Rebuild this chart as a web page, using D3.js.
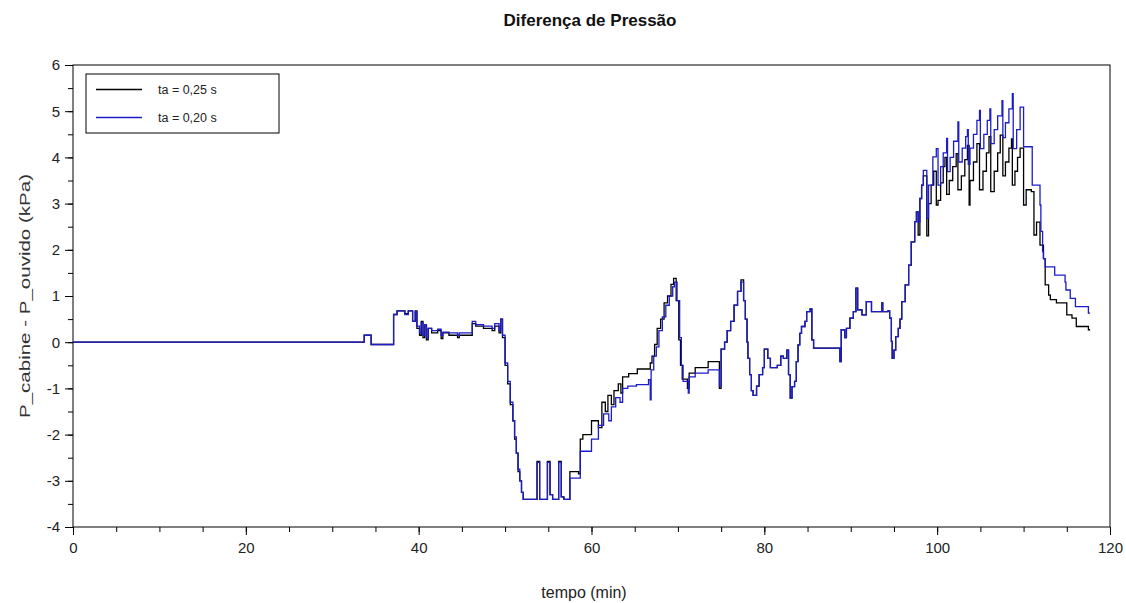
<!DOCTYPE html>
<html>
<head>
<meta charset="utf-8">
<script src="https://cdn.jsdelivr.net/npm/d3@7"></script>
<style>
  html, body { margin: 0; padding: 0; background: #fff; }
  svg { display: block; font-family: "Liberation Sans", Arial, Helvetica, sans-serif; }
</style>
</head>
<body>
<svg id="chart" width="1126" height="603"></svg>
<script>
// Pressure difference between cabin and ear, two time constants (stepwise signal)
const seriesNames = ["ta = 0,25 s", "ta = 0,20 s"];
const seriesColors = ["#000000", "#1c1cc8"];

const xTicks = [0, 20, 40, 60, 80, 100, 120];
const yTicks = [-4, -3, -2, -1, 0, 1, 2, 3, 4, 5, 6];

// ta = 0,25 s : time (min) and value (kPa) at each step change
const timeA = [
  0, 33.7, 34.5, 37.1, 37.5, 38.4, 38.8, 39.3, 39.6, 39.8, 40.1, 40.3, 40.5, 40.7, 40.9, 41.1, 41.5, 42.2, 42.6, 42.8,
  43.5, 44.5, 44.7, 46.2, 46.6, 47.5, 48.5, 48.8, 49.3, 49.5, 49.7, 50.0, 50.3, 50.6, 50.9, 51.1, 51.3, 51.5, 51.7, 51.9,
  52.1, 53.7, 54.0, 54.9, 55.2, 55.5, 56.2, 56.5, 56.8, 57.5, 58.5, 58.7, 59.0, 60.0, 60.8, 61.2, 61.6, 61.9, 62.3, 62.6,
  63.1, 63.4, 63.6, 64.3, 65.3, 66.8, 67.0, 67.3, 67.6, 68.0, 68.4, 68.8, 69.2, 69.5, 69.8, 70.1, 70.3, 70.5, 71.1, 71.3,
  72.0, 73.5, 74.8, 75.0, 75.4, 75.7, 76.1, 76.5, 76.9, 77.3, 77.6, 77.8, 78.0, 78.1, 78.3, 78.5, 78.7, 79.1, 79.4, 79.8,
  80.0, 80.4, 80.7, 81.5, 81.9, 82.2, 82.6, 82.8, 83.0, 83.2, 83.5, 83.7, 83.9, 84.1, 84.3, 84.7, 84.9, 85.3, 85.5, 85.7,
  88.75, 88.9, 89.3, 89.5, 89.9, 90.3, 90.6, 90.8, 91.3, 91.8, 92.4, 93.6, 93.7, 94.3, 94.5, 94.7, 94.8, 95.0, 95.2, 95.5,
  95.7, 95.9, 96.3, 96.7, 97.0, 97.4, 97.6, 97.8, 98.0, 98.2, 98.4, 98.8, 99.0, 99.3, 99.6, 99.9, 100.1, 100.4, 100.7, 100.9,
  101.1, 101.4, 101.8, 102.2, 102.4, 102.8, 103.2, 103.5, 103.7, 103.8, 104.2, 104.6, 104.9, 105.3, 105.7, 106.0, 106.2, 106.6, 107.0, 107.3,
  107.6, 107.9, 108.3, 108.6, 108.7, 109.0, 109.3, 109.6, 110.0, 110.3, 110.9, 111.2, 111.5, 111.9, 112.3, 112.5, 112.9, 113.1, 113.8, 115.0,
  115.6, 116.1, 117.5, 117.7
];
const valueA = [
  0, 0.15, -0.05, 0.6, 0.68, 0.62, 0.68, 0.45, 0.68, 0.3, 0.15, 0.45, 0.1, 0.35, 0.05, 0.3, 0.2, 0.25, 0.08, 0.2,
  0.15, 0.1, 0.15, 0.4, 0.35, 0.3, 0.25, 0.35, 0.2, 0.5, 0.1, -0.5, -0.9, -1.35, -1.7, -2.1, -2.4, -2.8, -3.0, -3.25,
  -3.4, -2.58, -3.4, -2.58, -3.3, -3.4, -2.58, -3.35, -3.4, -2.8, -2.85, -2.1, -2.0, -1.7, -1.85, -1.3, -1.5, -1.15, -1.35, -1.05,
  -0.9, -1.1, -0.75, -0.68, -0.58, -0.45, -0.3, -0.05, 0.3, 0.5, 0.85, 1.0, 1.25, 1.38, 0.9, 0.05, -0.5, -0.8, -1.0, -0.67,
  -0.55, -0.42, -1.0, -0.15, 0.0, 0.25, 0.45, 0.8, 1.1, 1.35, 0.9, 0.5, 0.0, -0.35, -0.7, -1.05, -1.15, -0.95, -0.7, -0.55,
  -0.15, -0.35, -0.55, -0.5, -0.3, -0.35, -0.17, -0.7, -1.21, -0.96, -0.85, -0.42, -0.06, 0.19, 0.34, 0.45, 0.66, 0.72, 0.05, -0.13,
  -0.42, 0.27, 0.1, 0.3, 0.52, 0.66, 1.17, 0.7, 0.59, 0.88, 0.66, 0.85, 0.66, 0.68, 0.52, 0.02, -0.35, -0.17, 0.12, 0.3,
  0.5, 0.88, 1.24, 1.67, 2.17, 2.61, 2.82, 2.32, 3.11, 3.4, 3.6, 2.3, 3.0, 3.4, 3.7, 2.97, 3.07, 3.45, 3.8, 4.0,
  3.2, 3.5, 3.8, 4.08, 3.3, 3.6, 3.95, 4.26, 2.97, 3.5, 3.9, 4.3, 3.3, 3.7, 4.1, 4.45, 3.26, 3.7, 4.1, 4.48,
  3.6, 3.9, 4.2, 4.4, 3.4, 3.7, 4.0, 4.2, 2.97, 3.3, 3.26, 2.32, 2.6, 2.1, 1.81, 1.24, 1.02, 0.92, 0.85, 0.59,
  0.52, 0.34, 0.27, 0.27
];

// ta = 0,20 s : time (min) and value (kPa) at each step change
const timeB = [
  0, 33.7, 34.5, 37.1, 37.5, 38.4, 38.8, 39.3, 39.6, 39.8, 40.1, 40.3, 40.5, 40.7, 40.9, 41.1, 41.5, 42.2, 42.6, 42.8,
  43.5, 44.5, 44.7, 46.2, 46.6, 47.5, 48.5, 48.8, 49.3, 49.5, 49.7, 50.0, 50.3, 50.6, 50.9, 51.1, 51.3, 51.5, 51.7, 51.9,
  52.1, 53.7, 54.0, 54.9, 55.2, 55.5, 56.2, 56.5, 56.8, 57.5, 58.7, 60.0, 60.8, 61.4, 62.0, 62.3, 62.8, 63.3, 63.6, 64.2,
  65.2, 66.6, 66.8, 66.9, 67.2, 67.5, 67.8, 68.2, 68.6, 69.0, 69.4, 69.6, 69.9, 70.2, 70.4, 70.6, 71.2, 71.3, 72.0, 73.5,
  74.8, 75.0, 75.4, 75.7, 76.1, 76.5, 76.9, 77.3, 77.6, 77.8, 78.0, 78.1, 78.3, 78.5, 78.7, 79.1, 79.4, 79.8, 80.0, 80.4,
  80.7, 81.5, 81.9, 82.2, 82.6, 82.8, 83.0, 83.2, 83.5, 83.7, 83.9, 84.1, 84.3, 84.7, 84.9, 85.3, 85.5, 85.7, 88.75, 88.9,
  89.3, 89.5, 89.9, 90.3, 90.6, 90.8, 91.3, 91.8, 92.4, 93.6, 93.7, 94.3, 94.5, 94.7, 94.8, 95.0, 95.2, 95.5, 95.7, 95.9,
  96.3, 96.7, 97.0, 97.4, 97.6, 97.8, 98.0, 98.2, 98.4, 98.8, 99.0, 99.5, 99.9, 100.1, 100.4, 100.7, 101.1, 101.2, 101.5, 101.9,
  102.4, 102.5, 102.9, 103.3, 103.5, 103.6, 103.8, 104.2, 104.6, 104.9, 105.0, 105.4, 105.8, 106.1, 106.2, 106.6, 107.0, 107.5, 107.6, 107.9,
  108.3, 108.7, 108.8, 109.2, 109.6, 110.0, 111.0, 111.9, 112.0, 112.2, 112.3, 112.5, 112.6, 113.6, 114.8, 114.9, 115.4, 116.0, 116.2, 117.5,
  117.7
];
const valueB = [
  0, 0.15, -0.05, 0.6, 0.68, 0.6, 0.68, 0.45, 0.66, 0.35, 0.2, 0.42, 0.15, 0.38, 0.1, 0.3, 0.25, 0.28, 0.15, 0.22,
  0.2, 0.15, 0.2, 0.45, 0.38, 0.35, 0.3, 0.4, 0.25, 0.5, 0.15, -0.45, -0.85, -1.3, -1.7, -2.05, -2.4, -2.75, -3.0, -3.25,
  -3.4, -2.6, -3.4, -2.6, -3.3, -3.4, -2.6, -3.35, -3.4, -2.94, -2.36, -2.1, -1.8, -1.55, -1.7, -1.4, -1.2, -1.3, -1.0, -0.95,
  -0.92, -0.81, -1.25, -0.6, -0.3, -0.1, 0.25, 0.55, 0.8, 1.0, 1.2, 1.3, 0.9, 0.1, -0.5, -0.85, -1.1, -0.75, -0.67, -0.6,
  -0.95, -0.15, 0.0, 0.25, 0.45, 0.8, 1.1, 1.3, 0.9, 0.5, 0.0, -0.35, -0.7, -1.05, -1.15, -0.95, -0.7, -0.55, -0.15, -0.35,
  -0.55, -0.5, -0.3, -0.35, -0.17, -0.7, -1.21, -0.96, -0.85, -0.42, -0.06, 0.19, 0.34, 0.45, 0.66, 0.72, 0.05, -0.13, -0.42, 0.27,
  0.1, 0.3, 0.52, 0.66, 1.17, 0.7, 0.59, 0.88, 0.66, 0.85, 0.66, 0.68, 0.52, 0.02, -0.35, -0.17, 0.12, 0.3, 0.5, 0.88,
  1.24, 1.67, 2.17, 2.61, 2.82, 2.6, 3.11, 3.4, 3.72, 2.68, 3.4, 4.01, 4.19, 3.4, 3.8, 4.1, 4.41, 3.69, 4.0, 4.35,
  4.77, 3.9, 4.2, 4.45, 4.6, 3.85, 4.2, 4.5, 4.8, 5.02, 4.19, 4.5, 4.8, 5.05, 4.3, 4.6, 4.9, 5.23, 4.43, 4.75,
  5.05, 5.38, 4.19, 4.6, 5.09, 4.23, 3.4, 2.97, 2.4, 1.96, 1.81, 1.63, 1.63, 1.45, 1.3, 1.13, 0.95, 0.77, 0.77, 0.63,
  0.63
];

const margin = { left: 73, right: 16, top: 65, bottom: 76 };
const W = 1126, H = 603;
const svg = d3.select("#chart");

const x = d3.scaleLinear().domain([0, 120]).range([margin.left, W - margin.right]);
const y = d3.scaleLinear().domain([-4, 6]).range([H - margin.bottom, margin.top]);

// plot frame
svg.append("rect")
  .attr("x", x(0)).attr("y", y(6))
  .attr("width", x(120) - x(0)).attr("height", y(-4) - y(6))
  .attr("fill", "none").attr("stroke", "#000").attr("stroke-width", 1);

const plainNumber = d => String(d);

// x axis: major and minor ticks below the frame
const gx = svg.append("g").attr("transform", `translate(0,${y(-4)})`);
gx.append("g").call(d3.axisBottom(x).tickValues(d3.range(0, 121, 5)).tickSize(5).tickFormat(""))
  .call(g => g.select(".domain").remove());
gx.append("g").call(d3.axisBottom(x).tickValues(xTicks).tickSize(8).tickPadding(7).tickFormat(plainNumber))
  .call(g => g.select(".domain").remove())
  .call(g => g.selectAll("text").attr("font-size", 15).attr("fill", "#222").attr("font-family", "inherit"));

// y axis: major and minor ticks left of the frame
const gy = svg.append("g").attr("transform", `translate(${x(0)},0)`);
gy.append("g").call(d3.axisLeft(y).tickValues(d3.range(-4, 6.01, 0.5)).tickSize(5).tickFormat(""))
  .call(g => g.select(".domain").remove());
gy.append("g").call(d3.axisLeft(y).tickValues(yTicks).tickSize(8).tickPadding(5).tickFormat(plainNumber))
  .call(g => g.select(".domain").remove())
  .call(g => g.selectAll("text").attr("font-size", 15).attr("fill", "#222").attr("font-family", "inherit"));

svg.selectAll(".tick line").attr("stroke", "#000");

// signal curves
const series = [
  { t: timeA, v: valueA },
  { t: timeB, v: valueB }
];
const line = d3.line()
  .x(d => x(d[0]))
  .y(d => y(d[1]))
  .curve(d3.curveStepAfter);

series.forEach((s, i) => {
  const pts = s.t.map((t, k) => [t, s.v[k]]);
  svg.append("path")
    .datum(pts)
    .attr("fill", "none")
    .attr("stroke", seriesColors[i])
    .attr("stroke-width", 1.3)
    .attr("stroke-linejoin", "miter")
    .attr("d", line);
});

// legend
const lg = svg.append("g");
lg.append("rect").attr("x", 86).attr("y", 74).attr("width", 193).attr("height", 59)
  .attr("fill", "#fff").attr("stroke", "#000").attr("stroke-width", 1);
seriesNames.forEach((name, i) => {
  const ly = 89.5 + i * 28;
  lg.append("line").attr("x1", 96).attr("x2", 142).attr("y1", ly).attr("y2", ly)
    .attr("stroke", seriesColors[i]).attr("stroke-width", 1.3);
  lg.append("text").attr("x", 158).attr("y", ly).attr("dy", "0.35em")
    .attr("font-size", 12.5).attr("fill", "#222").text(name);
});

// titles
svg.append("text").attr("x", 590).attr("y", 26).attr("text-anchor", "middle")
  .attr("font-size", 17).attr("font-weight", "bold").attr("fill", "#111").text("Diferença de Pressão");
svg.append("text").attr("x", 584).attr("y", 598).attr("text-anchor", "middle")
  .attr("font-size", 16).attr("fill", "#222").text("tempo (min)");
svg.append("text").attr("transform", `translate(30,${(y(6) + y(-4)) / 2}) rotate(-90)`)
  .attr("text-anchor", "middle").attr("font-size", 14.5).attr("fill", "#333")
  .attr("textLength", 244).attr("lengthAdjust", "spacingAndGlyphs")
  .text("P_cabine - P_ouvido (kPa)");
</script>
</body>
</html>
